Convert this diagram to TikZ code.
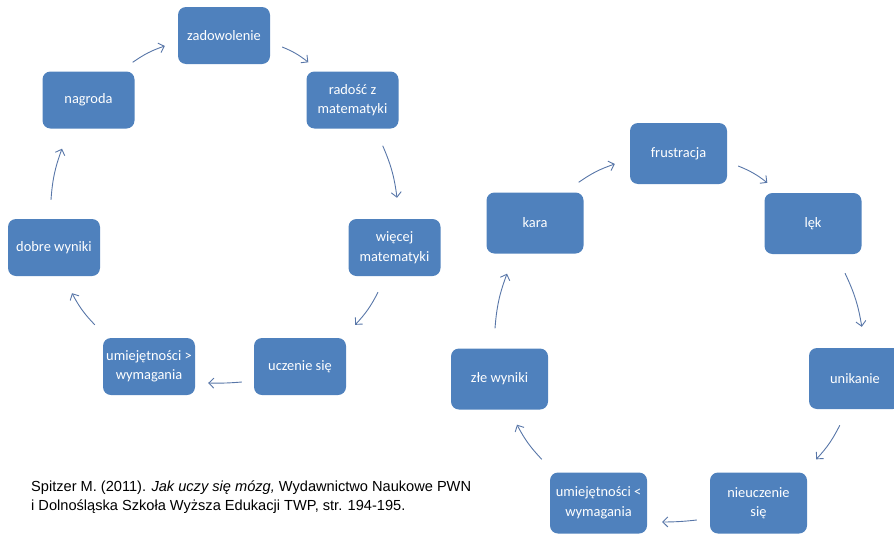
\documentclass[tikz,border=0pt]{standalone}
\usepackage{fontspec}
\setmainfont{Liberation Sans}
\newfontfamily\boxfont{Carlito}
\usetikzlibrary{arrows.meta}
\definecolor{boxblue}{RGB}{79,129,189}
\definecolor{arrowcol}{RGB}{88,118,168}
\begin{document}
\begin{tikzpicture}[x=1pt,y=-1pt,
 stepbox/.style={fill=boxblue, rounded corners=8pt, text=white, font=\boxfont\fontsize{14.4}{19.5}\selectfont, align=center, inner sep=2pt},
 lbox/.style={stepbox, minimum width=92pt, minimum height=57pt},
 rbox/.style={stepbox, minimum width=97pt, minimum height=61pt},
 arr/.style={draw=arrowcol, line width=0.9pt, -{Straight Barb[length=5pt,width=10pt]}, bend left=8},
 flat/.style={draw=arrowcol, line width=0.9pt, -{Straight Barb[length=5pt,width=10pt]}, bend left=3}]
\useasboundingbox (0,0) rectangle (894,533);
\clip (0,0) rectangle (894,533);
% left cycle
\node[lbox] (zad) at (224,35.5) {zadowolenie};
\node[lbox] (rad) at (352.5,100) {radość z\\matematyki};
\node[lbox] (nag) at (88.5,100) {nagroda};
\node[lbox] (wie) at (394.5,247.5) {więcej\\matematyki};
\node[lbox] (dob) at (54,247.5) {dobre wyniki};
\node[lbox] (umg) at (149,366.5) {umiejętności >\\wymagania};
\node[lbox] (ucz) at (300,366.5) {uczenie się};
% right cycle
\node[rbox] (fru) at (678.5,153.5) {frustracja};
\node[rbox] (kara) at (535,223) {kara};
\node[rbox] (lek) at (813,223.5) {lęk};
\node[rbox, minimum width=92pt] (uni) at (855,378.5) {unikanie};
\node[rbox] (zle) at (499.5,379) {złe wyniki};
\node[rbox] (uml) at (598.5,503) {umiejętności <\\wymagania};
\node[rbox] (nie) at (758.5,503) {nieuczenie\\się};
% left arrows
\draw[arr] ([shift={(-2,-9)}]nag.north east) to ([shift={(-13,10.5)}]zad.west);
\draw[arr] ([shift={(12,11.5)}]zad.east) to ([shift={(2,-9)}]rad.north west);
\draw[arr] ([shift={(-16,17)}]rad.south east) to ([shift={(2.5,-21)}]wie.north);
\draw[arr] ([shift={(-16.5,16)}]wie.south) to ([shift={(9,-13)}]ucz.north east);
\draw[flat] ([shift={(-12,15.5)}]ucz.west) to ([shift={(13,16.5)}]umg.east);
\draw[arr] ([shift={(-8,-13)}]umg.north west) to ([shift={(18,17)}]dob.south);
\draw[arr] ([shift={(-3,-19)}]dob.north) to ([shift={(-26.5,20)}]nag.south);
% right arrows
\draw[arr] ([shift={(-5,-10)}]kara.north east) to ([shift={(-15,10.5)}]fru.west);
\draw[arr] ([shift={(11,12.5)}]fru.east) to ([shift={(3,-10)}]lek.north west);
\draw[arr] ([shift={(32,19)}]lek.south) to ([shift={(53,-21)}]uni.north west);
\draw[arr] ([shift={(31,16)}]uni.south west) to ([shift={(9,-13)}]nie.north east);
\draw[flat] ([shift={(-13,17)}]nie.west) to ([shift={(15,19)}]uml.east);
\draw[arr] ([shift={(-8,-13)}]uml.north west) to ([shift={(17.5,15)}]zle.south);
\draw[arr] ([shift={(-4.5,-20)}]zle.north) to ([shift={(-28,20)}]kara.south);
% citation
\node[anchor=north west, inner sep=0pt, align=left, font=\fontsize{14.6}{19}\selectfont] (cite) at (31,481) {Spitzer M. (2011). \textit{Jak uczy się mózg,} Wydawnictwo Naukowe PWN\\i Dolnośląska Szkoła Wyższa Edukacji TWP, str. 194-195.};
\end{tikzpicture}
\end{document}
